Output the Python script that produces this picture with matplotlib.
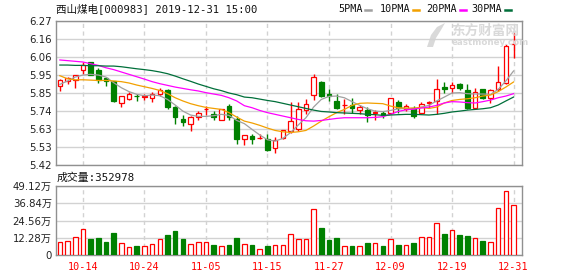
import matplotlib
matplotlib.use('Agg')
import matplotlib.pyplot as plt
from matplotlib.lines import Line2D
from matplotlib.patches import Polygon
import numpy as np

plt.rcParams['font.family'] = ['DejaVu Sans', 'Noto Sans CJK SC']

title = '西山煤电[000983] 2019-12-31 15:00'
vol_title = '成交量:352978'

tick_labels = ['10-14', '10-24', '11-05', '11-15', '11-27', '12-09', '12-19', '12-31']
tick_idx = [3, 11, 19, 27, 35, 43, 51, 59]

price_labels = ['6.27', '6.16', '6.06', '5.95', '5.85', '5.74', '5.63', '5.53', '5.42']
vol_labels = ['49.12万', '36.84万', '24.56万', '12.28万', '0']

opens = [5.886, 5.915, 5.923, 5.978, 6.026, 5.978, 5.934, 5.916, 5.784, 5.811,
         5.829, 5.823, 5.815, 5.841, 5.864, 5.762, 5.691, 5.660, 5.703, 5.750,
         5.719, 5.687, 5.770, 5.693, 5.571, 5.591, 5.577, 5.575, 5.518, 5.577,
         5.620, 5.630, 5.742, 5.833, 5.912, 5.841, 5.797, 5.772, 5.774, 5.744,
         5.742, 5.728, 5.729, 5.729, 5.794, 5.748, 5.758, 5.729, 5.785, 5.797,
         5.882, 5.872, 5.896, 5.862, 5.754, 5.866, 5.817, 5.866, 5.906, 6.132]
highs = [5.928, 5.937, 5.953, 6.030, 6.030, 5.993, 5.940, 5.916, 5.827, 5.849,
         5.837, 5.838, 5.849, 5.874, 5.866, 5.770, 5.717, 5.707, 5.736, 5.766,
         5.736, 5.752, 5.780, 5.709, 5.600, 5.605, 5.605, 5.601, 5.585, 5.626,
         5.794, 5.794, 5.811, 5.955, 5.914, 5.866, 5.841, 5.807, 5.813, 5.772,
         5.762, 5.742, 5.738, 5.817, 5.801, 5.778, 5.768, 5.794, 5.797, 5.925,
         5.912, 5.912, 5.906, 5.896, 5.872, 5.870, 5.866, 6.004, 6.136, 6.201]
lows = [5.857, 5.900, 5.872, 5.959, 5.953, 5.904, 5.884, 5.794, 5.760, 5.801,
        5.798, 5.801, 5.790, 5.825, 5.752, 5.660, 5.652, 5.622, 5.687, 5.717,
        5.687, 5.685, 5.687, 5.546, 5.536, 5.546, 5.574, 5.502, 5.493, 5.575,
        5.611, 5.620, 5.719, 5.801, 5.821, 5.797, 5.748, 5.719, 5.729, 5.719,
        5.674, 5.685, 5.699, 5.723, 5.729, 5.738, 5.699, 5.719, 5.758, 5.723,
        5.847, 5.847, 5.862, 5.748, 5.748, 5.810, 5.788, 5.857, 5.900, 6.053]
closes = [5.923, 5.935, 5.951, 6.012, 5.953, 5.923, 5.913, 5.800, 5.825, 5.839,
          5.826, 5.826, 5.839, 5.864, 5.760, 5.703, 5.671, 5.703, 5.727, 5.752,
          5.703, 5.750, 5.701, 5.571, 5.597, 5.575, 5.579, 5.506, 5.565, 5.624,
          5.679, 5.752, 5.782, 5.939, 5.827, 5.825, 5.754, 5.775, 5.758, 5.762,
          5.713, 5.731, 5.715, 5.813, 5.758, 5.768, 5.709, 5.782, 5.789, 5.870,
          5.870, 5.892, 5.876, 5.754, 5.853, 5.817, 5.862, 5.912, 6.122, 6.136]

# volume in 万 (10k)
volume = [9.3, 10.0, 12.9, 18.6, 11.4, 12.2, 9.5, 16.0, 8.6, 5.7,
          6.4, 6.4, 7.9, 11.4, 14.3, 17.2, 11.4, 7.9, 9.3, 9.3,
          7.2, 6.4, 7.2, 12.2, 7.9, 7.2, 4.3, 6.4, 7.2, 7.2,
          15.0, 11.2, 11.2, 32.7, 19.3, 10.5, 12.2, 6.2, 6.4, 6.2,
          8.6, 8.6, 6.4, 11.2, 7.2, 6.9, 8.6, 12.6, 12.6, 22.6,
          14.8, 17.6, 14.3, 13.6, 11.9, 10.0, 9.3, 33.4, 45.5, 35.3]

ma5 = [5.896, 5.916, 5.939, 5.951, 5.955, 5.951, 5.939, 5.906, 5.876, 5.853,
       5.837, 5.829, 5.833, 5.829, 5.807, 5.774, 5.738, 5.715, 5.707, 5.707,
       5.711, 5.719, 5.713, 5.683, 5.664, 5.630, 5.597, 5.569, 5.561, 5.577,
       5.611, 5.656, 5.699, 5.762, 5.807, 5.825, 5.827, 5.817, 5.794, 5.772,
       5.752, 5.738, 5.735, 5.742, 5.752, 5.754, 5.750, 5.762, 5.772, 5.798,
       5.821, 5.845, 5.847, 5.841, 5.839, 5.839, 5.837, 5.866, 5.916, 5.975]
ma10 = [5.947, 5.929, 5.923, 5.923, 5.921, 5.919, 5.919, 5.916, 5.912, 5.904,
        5.892, 5.882, 5.872, 5.860, 5.841, 5.817, 5.798, 5.782, 5.770, 5.760,
        5.754, 5.748, 5.729, 5.703, 5.679, 5.668, 5.654, 5.638, 5.624, 5.616,
        5.612, 5.616, 5.624, 5.650, 5.679, 5.705, 5.729, 5.748, 5.772, 5.784,
        5.786, 5.784, 5.782, 5.768, 5.758, 5.756, 5.756, 5.760, 5.754, 5.762,
        5.786, 5.801, 5.807, 5.811, 5.817, 5.827, 5.833, 5.853, 5.880, 5.910]
ma20 = [6.040, 6.036, 6.032, 6.028, 6.018, 6.008, 5.994, 5.983, 5.969, 5.955,
        5.941, 5.927, 5.912, 5.900, 5.890, 5.880, 5.872, 5.864, 5.857, 5.847,
        5.839, 5.831, 5.817, 5.798, 5.770, 5.758, 5.742, 5.729, 5.719, 5.709,
        5.699, 5.689, 5.681, 5.679, 5.683, 5.689, 5.695, 5.699, 5.699, 5.699,
        5.699, 5.701, 5.705, 5.719, 5.736, 5.746, 5.750, 5.756, 5.762, 5.772,
        5.786, 5.794, 5.792, 5.788, 5.786, 5.794, 5.803, 5.817, 5.827, 5.841]
ma30 = [6.010, 6.010, 6.008, 6.008, 6.006, 6.006, 6.004, 6.004, 6.000, 5.994,
        5.988, 5.983, 5.977, 5.969, 5.959, 5.945, 5.929, 5.914, 5.898, 5.884,
        5.870, 5.859, 5.845, 5.835, 5.821, 5.817, 5.809, 5.801, 5.794, 5.784,
        5.774, 5.764, 5.754, 5.744, 5.736, 5.733, 5.729, 5.727, 5.725, 5.723,
        5.719, 5.717, 5.713, 5.715, 5.717, 5.719, 5.719, 5.717, 5.715, 5.719,
        5.725, 5.733, 5.738, 5.744, 5.748, 5.752, 5.758, 5.774, 5.798, 5.821]

RED = '#ff0000'
GREEN = '#008000'
GRID = '#d2d2d2'
SPINE = '#909090'
WATERMARK = '#d9d9d9'
ma_styles = [('5PMA', ma5, '#a0a0a0'), ('10PMA', ma10, '#f2a000'),
             ('20PMA', ma20, '#ff00ff'), ('30PMA', ma30, '#006f3a')]

W, H = 578, 276
fig = plt.figure(figsize=(W / 100, H / 100), dpi=100)
ax = fig.add_axes([56 / W, 1 - 165 / H, 466 / W, 144 / H])
axv = fig.add_axes([56 / W, 1 - 255 / H, 466 / W, 69 / H])

o = np.array(opens); c = np.array(closes)
hi = np.array(highs); lo = np.array(lows)
x = np.arange(len(o))
up = c >= o
cols = [RED if u else GREEN for u in up]
faces = ['white' if u else GREEN for u in up]

# watermark (drawn first so it sits behind everything)
icon = [(427, 47), (431, 35), (437, 27), (445, 23), (441, 30), (436, 38), (433, 47)]
fig.add_artist(Polygon([(px / W, 1 - py / H) for px, py in icon], closed=True,
                       facecolor=WATERMARK, edgecolor='none', transform=fig.transFigure, zorder=0))
fig.text(451 / W, 1 - 30.5 / H, '东方财富网', fontsize=9.8, va='center', ha='left',
         family=['Noto Sans CJK SC'], color=WATERMARK, fontweight='bold', zorder=0)
fig.text(452 / W, 1 - 42.5 / H, 'eastmoney.com', fontsize=6.3, va='center', ha='left',
         color=WATERMARK, fontweight='bold', zorder=0)
ax.patch.set_alpha(0)

# candles
ax.vlines(x, lo, hi, colors=cols, lw=1, zorder=2)
body = np.maximum(np.abs(c - o), 0.003)
ax.bar(x, body, bottom=np.minimum(o, c), width=0.6, color=faces,
       edgecolor=cols, lw=0.9, zorder=3)

for name, vals, col in ma_styles:
    ax.plot(x, vals, color=col, lw=0.9, zorder=4)

# volume
axv.bar(x, volume, width=0.6, color=faces, edgecolor=cols, lw=0.9, zorder=3)

ax.set_ylim(5.42, 6.27)
ax.set_yticks(np.linspace(6.27, 5.42, 9))
ax.set_yticklabels(price_labels)
axv.set_ylim(0, 49.12)
axv.set_yticks(np.linspace(49.12, 0, 5))
axv.set_yticklabels(vol_labels)

for a in (ax, axv):
    a.set_xlim(-0.5, 60.1)
    a.set_xticks(tick_idx)
    a.yaxis.grid(True, color=GRID, lw=1, ls='-', zorder=0)
    a.xaxis.grid(True, color=GRID, lw=1, ls=(0, (3, 2.5)), zorder=0)
    a.set_axisbelow(True)
    a.tick_params(length=0, labelsize=7.3, pad=3, labelcolor='#222222')
    for s in a.spines.values():
        s.set_color(SPINE)
        s.set_linewidth(1)

ax.set_xticklabels([])
axv.set_xticklabels(tick_labels, color=RED, family=['DejaVu Sans Mono'], fontsize=7.3)
axv.tick_params(axis='x', pad=5)

# header texts
fig.text(56 / W, 1 - 8.5 / H, title, fontsize=7.6, va='center', ha='left',
         family=['DejaVu Sans Mono', 'Noto Sans CJK SC'], color='#111111')
fig.text(57 / W, 1 - 177.5 / H, vol_title, fontsize=7.8, va='center', ha='left',
         family=['DejaVu Sans Mono', 'Noto Sans CJK SC'], color='#111111')

# legend
leg_x = [338.7, 380, 425.7, 471]
dash_x = [364.7, 413, 459.7, 505]
for (name, vals, col), tx, dx in zip(ma_styles, leg_x, dash_x):
    fig.text(tx / W, 1 - 9 / H, name, fontsize=7.3, va='center', ha='left',
             family=['DejaVu Sans Mono'], color='#111111')
    fig.add_artist(Line2D([dx / W, (dx + 6) / W], [1 - 9.5 / H, 1 - 9.5 / H],
                          color=col, lw=1.8, transform=fig.transFigure))

fig.savefig('out.png', dpi=100)
